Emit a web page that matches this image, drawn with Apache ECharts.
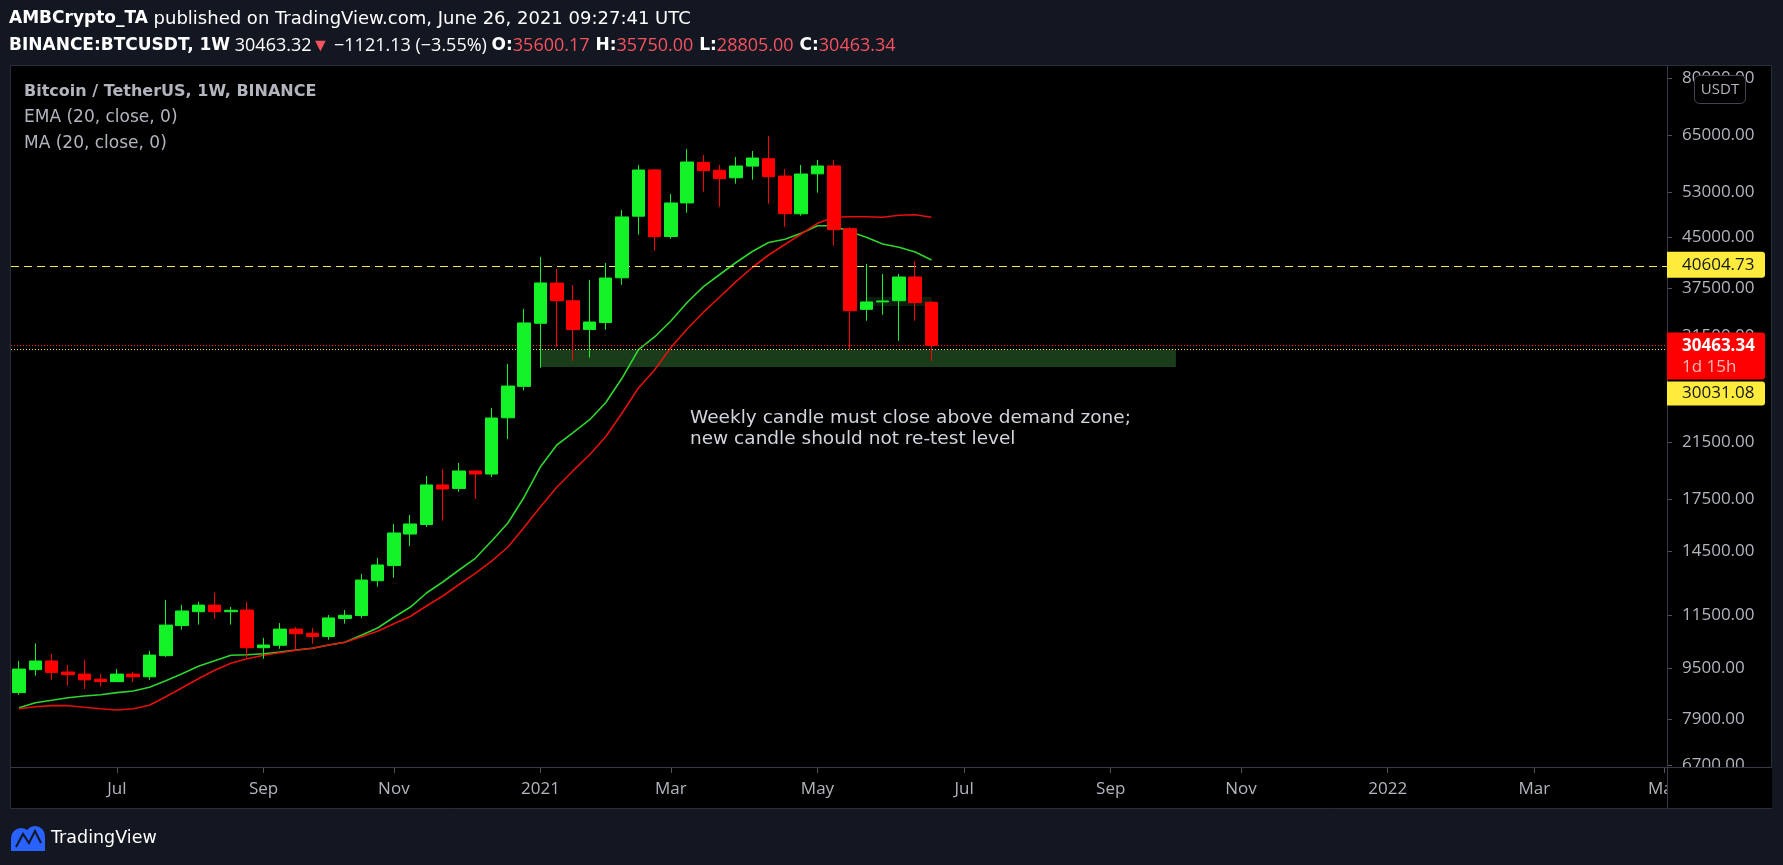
<!DOCTYPE html>
<html>
<head>
<meta charset="utf-8">
<script src="https://cdn.jsdelivr.net/npm/echarts@6/dist/echarts.min.js"></script>
<style>
html,body{margin:0;padding:0;background:#131722;}
#c{width:1783px;height:865px;}
</style>
</head>
<body>
<div id="c"></div>
<script>
// ---------------- DATA ----------------
const weeks = [
 '2020-05-25','2020-06-01','2020-06-08','2020-06-15','2020-06-22','2020-06-29','2020-07-06','2020-07-13',
 '2020-07-20','2020-07-27','2020-08-03','2020-08-10','2020-08-17','2020-08-24','2020-08-31','2020-09-07',
 '2020-09-14','2020-09-21','2020-09-28','2020-10-05','2020-10-12','2020-10-19','2020-10-26','2020-11-02',
 '2020-11-09','2020-11-16','2020-11-23','2020-11-30','2020-12-07','2020-12-14','2020-12-21','2020-12-28',
 '2021-01-04','2021-01-11','2021-01-18','2021-01-25','2021-02-01','2021-02-08','2021-02-15','2021-02-22',
 '2021-03-01','2021-03-08','2021-03-15','2021-03-22','2021-03-29','2021-04-05','2021-04-12','2021-04-19',
 '2021-04-26','2021-05-03','2021-05-10','2021-05-17','2021-05-24','2021-05-31','2021-06-07','2021-06-14',
 '2021-06-21'
];
const open = [
 8700, 9450, 9750, 9370, 9300, 9130, 9050, 9300,
 9210, 9940, 11080, 11650, 11930, 11650, 11720, 10230,
 10320, 10940, 10780, 10650, 11370, 11490, 13030, 13760,
 15420, 15960, 18410, 18180, 19360, 19150, 23460, 26280,
 33000, 38150, 35790, 32260, 33090, 38890, 48580, 57410,
 45140, 50960, 59000, 57350, 55800, 58200, 59770, 56150,
 49000, 56600, 58240, 46430, 34700, 35650, 35800, 39000,
 35600.17
];
const high = [
 9750, 10390, 10000, 9610, 9790, 9300, 9470, 9370,
 10110, 12150, 11940, 12070, 12470, 11850, 12070, 10600,
 11180, 11020, 10980, 11510, 11720, 13350, 14140, 15990,
 16520, 19010, 19500, 19930, 19420, 24300, 28490, 34750,
 41920, 40150, 37890, 38580, 41020, 49680, 58440, 57590,
 52630, 61910, 60590, 58440, 60150, 61470, 64890, 57590,
 58440, 59500, 59500, 46720, 40880, 39430, 39430, 41320,
 35750
];
const low = [
 8630, 9250, 9100, 8920, 8810, 8890, 9040, 9050,
 9110, 9900, 10920, 11120, 11360, 11120, 9870, 9830,
 10190, 10120, 10380, 10530, 11160, 11390, 12750, 13170,
 14770, 15820, 16180, 17950, 17500, 18950, 21730, 25900,
 28110, 30330, 28830, 29150, 32250, 37930, 45440, 42890,
 44790, 49190, 53070, 50270, 54620, 55420, 50820, 46770,
 48660, 52880, 43670, 30000, 33310, 34040, 30990, 33310,
 28805
];
const close = [
 9470, 9750, 9350, 9280, 9110, 9050, 9300, 9210,
 9960, 11100, 11680, 11930, 11650, 11710, 10230, 10330,
 10940, 10760, 10650, 11390, 11500, 13060, 13790, 15480,
 15990, 18410, 18140, 19360, 19150, 23440, 26310, 33040,
 38170, 35800, 32250, 33150, 38860, 48440, 57390, 45110,
 50950, 59070, 57250, 55620, 58230, 59930, 56020, 49020,
 56570, 58230, 46260, 34530, 35640, 35770, 39000, 35550,
 30463.34
];
const ema20 = [
 8238, 8388, 8461, 8541, 8593, 8634, 8697, 8750,
 8867, 9081, 9314, 9566, 9761, 9953, 9975, 10011,
 10073, 10146, 10208, 10330, 10432, 10699, 10984, 11417,
 11837, 12464, 12969, 13543, 14127, 15038, 16047, 17626,
 19664, 21266, 22232, 23275, 24775, 27056, 29966, 31406,
 33274, 35572, 37661, 39356, 41098, 42763, 44175, 44688,
 45667, 46938, 46938, 45932, 45012, 43937, 43416, 42686,
 41470
];
const ma20 = [
 8208, 8268, 8298, 8298, 8250, 8208, 8170, 8208,
 8310, 8572, 8855, 9147, 9429, 9670, 9832, 9953,
 10047, 10135, 10208, 10330, 10432, 10645, 10854, 11156,
 11450, 11892, 12330, 12852, 13382, 13980, 14715, 15800,
 17020, 18254, 19382, 20512, 21913, 23845, 26097, 27879,
 30238, 32326, 34348, 36285, 38346, 40363, 42226, 43858,
 45552, 47345, 48382, 48488, 48488, 48382, 48733, 48839,
 48382
];
const tickDates  = ['2020-07-06','2020-09-07','2020-11-02','2021-01-04','2021-03-01','2021-05-03','2021-07-05','2021-09-06','2021-11-01','2022-01-03','2022-03-07','2022-05-02'];
const tickLabels = ['Jul','Sep','Nov','2021','Mar','May','Jul','Sep','Nov','2022','Mar','May'];
const priceTicks = [80000, 65000, 53000, 45000, 37500, 31500, 25500, 21500, 17500, 14500, 11500, 9500, 7900, 6700];

const resistance = 40604.73;
const lastPrice  = 30463.34;
const support    = 30031.08;
const zone      = {from: '2021-01-04', to: '2021-10-04', top: 30031.08, bottom: 28180};
const smallZone = {from: '2021-05-24', to: '2021-06-21', top: 36285, bottom: 35125};

// ---------------- CHART ----------------
// x position = number of weeks since the first candle (TradingView bar index)
const DAY = 86400000;
const t0 = Date.parse(weeks[0] + 'T00:00:00Z');
const wk = s => Math.round((Date.parse(s + 'T00:00:00Z') - t0) / DAY) / 7;
const tickIdx = tickDates.map(wk);
const xMin = -0.5;
const xMax = wk('2022-05-03');
const yMin = 6650, yMax = 83540;

const UP = '#14f228', DOWN = '#ff0000';
const LBL = '#b2b5be';
const FONT = 'Open Sans';
const DJ = 'DejaVu Sans';

const chart = echarts.init(document.getElementById('c'), null, {renderer: 'canvas'});

const option = {
  backgroundColor: '#131722',
  animation: false,
  grid: {left: 11, right: 116, top: 66, bottom: 98},
  xAxis: {
    type: 'value', min: xMin, max: xMax, scale: true,
    axisLine: {show: true, onZero: false, lineStyle: {color: '#363a45'}},
    axisTick: {show: true, customValues: tickIdx, length: 6, lineStyle: {color: '#50535e'}},
    axisLabel: {
      customValues: tickIdx, color: LBL, fontSize: 17, fontFamily: FONT, margin: 14,
      formatter: v => { const k = tickIdx.findIndex(q => Math.abs(q - v) < 1e-6); return k >= 0 ? tickLabels[k] : ''; }
    },
    splitLine: {show: false}
  },
  yAxis: {
    type: 'log', logBase: 10, position: 'right', min: yMin, max: yMax,
    axisLine: {show: true, onZero: false, lineStyle: {color: '#363a45'}},
    axisTick: {show: true, customValues: priceTicks, length: 5, lineStyle: {color: '#50535e'}},
    axisLabel: {customValues: priceTicks, color: LBL, fontSize: 17, fontFamily: FONT, margin: 15,
      formatter: v => Number(v).toFixed(2)},
    splitLine: {show: false}
  },
  series: [
    {
      type: 'line', name: 'EMA (20, close, 0)', z: 2, showSymbol: false, symbol: 'none',
      data: weeks.map((w, i) => [wk(w), ema20[i]]),
      lineStyle: {color: '#2fd42f', width: 1.6}
    },
    {
      type: 'line', name: 'MA (20, close, 0)', z: 2, showSymbol: false, symbol: 'none',
      data: weeks.map((w, i) => [wk(w), ma20[i]]),
      lineStyle: {color: '#e3100c', width: 1.6}
    },
    {
      type: 'line', name: 'zones', z: 3, data: [], showSymbol: false,
      markArea: {
        silent: true,
        data: [
          [{coord: [wk(zone.from), zone.top], itemStyle: {color: 'rgba(76,175,80,0.34)'}},
           {coord: [wk(zone.to), zone.bottom]}],
          [{coord: [wk(smallZone.from), smallZone.top], itemStyle: {color: 'rgba(76,175,80,0.16)'}},
           {coord: [wk(smallZone.to), smallZone.bottom]}]
        ]
      }
    },
    {
      type: 'candlestick', name: 'BTCUSDT', z: 5, barWidth: 13,
      data: weeks.map((w, i) => [wk(w), open[i], close[i], low[i], high[i]]),
      encode: {x: 0, y: [1, 2, 3, 4]},
      itemStyle: {color: UP, color0: DOWN, borderColor: UP, borderColor0: DOWN, borderWidth: 1},
      markLine: {
        silent: true, symbol: ['none', 'none'], label: {show: false},
        data: [
          {yAxis: resistance, lineStyle: {color: '#f7e84d', type: [8, 5], width: 1}},
          {yAxis: lastPrice, lineStyle: {color: '#ff1a1a', type: [1, 2], width: 1}},
          {yAxis: support, lineStyle: {color: '#f7e84d', type: [1, 2], width: 1}}
        ]
      }
    }
  ]
};
chart.setOption(option);

// ---------------- OVERLAYS ----------------
const py = v => chart.convertToPixel({yAxisIndex: 0}, v);
const AX = 1667;
const yRes = py(resistance), yLast = py(lastPrice);

const g = [];
g.push({type: 'rect', z: -10, shape: {x: 10.5, y: 65.5, width: 1761, height: 743},
  style: {fill: '#000000', stroke: '#2a2e39', lineWidth: 1}});
g.push({type: 'rect', z: 50, shape: {x: AX + 1, y: 768, width: 104, height: 40}, style: {fill: '#000000'}});
g.push({type: 'line', z: 51, shape: {x1: AX + 0.5, y1: 66, x2: AX + 0.5, y2: 808}, style: {stroke: '#363a45', lineWidth: 1}});
g.push({type: 'line', z: 51, shape: {x1: 11, y1: 767.5, x2: 1771, y2: 767.5}, style: {stroke: '#363a45', lineWidth: 1}});

g.push({type: 'rect', z: 60, shape: {x: AX, y: yRes - 14, width: 98, height: 26, r: [0, 3, 3, 0]}, style: {fill: '#ffeb3b'}});
g.push({type: 'text', z: 61, x: 1682, y: yRes - 1,
  style: {text: resistance.toFixed(2), fill: '#131722', fontSize: 17, fontFamily: FONT, verticalAlign: 'middle'}});
g.push({type: 'rect', z: 60, shape: {x: AX, y: yLast - 13, width: 98, height: 47, r: [0, 3, 3, 0]}, style: {fill: '#ff0000'}});
g.push({type: 'text', z: 61, x: 1682, y: yLast + 1,
  style: {text: lastPrice.toFixed(2), fill: '#ffffff', fontSize: 17, fontWeight: 'bold', fontFamily: FONT, verticalAlign: 'middle'}});
g.push({type: 'text', z: 61, x: 1682, y: yLast + 22,
  style: {text: '1d 15h', fill: '#ffb8b8', fontSize: 17, fontFamily: FONT, verticalAlign: 'middle'}});
g.push({type: 'rect', z: 60, shape: {x: AX, y: yLast + 36, width: 98, height: 24, r: [0, 3, 3, 0]}, style: {fill: '#ffeb3b'}});
g.push({type: 'text', z: 61, x: 1682, y: yLast + 48,
  style: {text: support.toFixed(2), fill: '#131722', fontSize: 17, fontFamily: FONT, verticalAlign: 'middle'}});

g.push({type: 'rect', z: 60, shape: {x: 1694.5, y: 75.5, width: 51, height: 28, r: 5}, style: {fill: '#000000', stroke: '#434651', lineWidth: 1}});
g.push({type: 'text', z: 61, x: 1720, y: 90,
  style: {text: 'USDT', fill: LBL, fontSize: 15, fontFamily: FONT, align: 'center', verticalAlign: 'middle'}});

// header
g.push({type: 'text', z: 61, x: 9, y: 19,
  style: {text: '{b|AMBCrypto_TA}{n| published on TradingView.com, June 26, 2021 09:27:41 UTC}',
    rich: {
      b: {fontWeight: 'bold', fill: '#ffffff', fontFamily: DJ, fontSize: 17},
      n: {fill: '#ffffff', fontFamily: DJ, fontSize: 18}
    },
    fontFamily: DJ, fontSize: 17, fill: '#fff', verticalAlign: 'middle'}});
g.push({type: 'text', z: 61, x: 9, y: 46,
  style: {text: '{b|BINANCE:BTCUSDT, 1W}{n| 30463.32}{r|▼}{n| −1121.13 (−3.55%) }{b|O:}{r|35600.17}{b| H:}{r|35750.00}{b| L:}{r|28805.00}{b| C:}{r|30463.34}',
    rich: {
      b: {fontWeight: 'bold', fill: '#ffffff', fontFamily: DJ, fontSize: 17},
      n: {fill: '#ffffff', fontFamily: FONT, fontSize: 18},
      r: {fill: '#f7525f', fontFamily: FONT, fontSize: 18}
    },
    fontFamily: DJ, fontSize: 17, fill: '#fff', verticalAlign: 'middle'}});

// legend
g.push({type: 'text', z: 61, x: 24, y: 92,
  style: {text: 'Bitcoin / TetherUS, 1W, BINANCE', fill: LBL, fontSize: 16, fontWeight: 'bold', fontFamily: DJ, verticalAlign: 'middle'}});
g.push({type: 'text', z: 61, x: 24, y: 118,
  style: {text: 'EMA (20, close, 0)', fill: LBL, fontSize: 17, fontFamily: DJ, verticalAlign: 'middle'}});
g.push({type: 'text', z: 61, x: 24, y: 144,
  style: {text: 'MA (20, close, 0)', fill: LBL, fontSize: 17, fontFamily: DJ, verticalAlign: 'middle'}});

// annotation
g.push({type: 'text', z: 61, x: 690, y: 418,
  style: {text: 'Weekly candle must close above demand zone;', fill: '#d1d4dc', fontSize: 18.5, fontFamily: DJ, verticalAlign: 'middle'}});
g.push({type: 'text', z: 61, x: 690, y: 439,
  style: {text: 'new candle should not re-test level', fill: '#d1d4dc', fontSize: 18.5, fontFamily: DJ, verticalAlign: 'middle'}});

// TradingView logo
g.push({type: 'circle', z: 61, shape: {cx: 21, cy: 838, r: 10}, style: {fill: '#2962ff'}});
g.push({type: 'circle', z: 61, shape: {cx: 35, cy: 836, r: 10}, style: {fill: '#2962ff'}});
g.push({type: 'rect', z: 61, shape: {x: 11, y: 838, width: 34, height: 13}, style: {fill: '#2962ff'}});
g.push({type: 'polyline', z: 62, shape: {points: [[16, 847], [23, 834], [29, 843], [35, 831], [41, 843]]}, style: {stroke: '#131722', lineWidth: 2}});
g.push({type: 'text', z: 61, x: 51, y: 838,
  style: {text: 'TradingView', fill: '#ffffff', fontSize: 17.5, fontFamily: DJ, verticalAlign: 'middle'}});

chart.setOption({graphic: g});
</script>
</body>
</html>
